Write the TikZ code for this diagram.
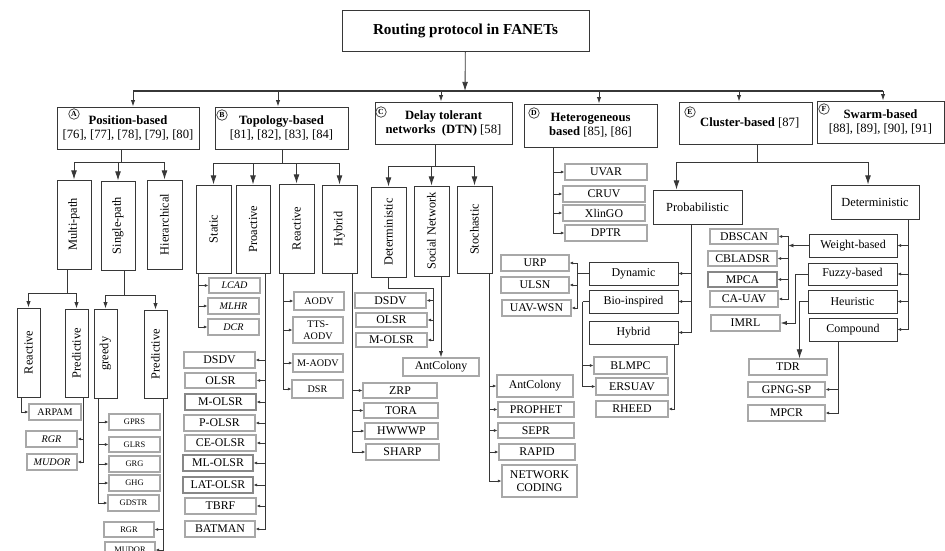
\documentclass[tikz,border=0pt]{standalone}
\usepackage{fontspec}
\setmainfont{Liberation Serif}
\usetikzlibrary{arrows.meta, positioning, calc}
\usepackage{xcolor}
\definecolor{dgray}{RGB}{55,55,55}
\definecolor{mgray}{RGB}{135,135,135}
\definecolor{lgray}{RGB}{168,168,168}

\begin{document}
\begin{tikzpicture}[x=0.025cm, y=-0.025cm,
  sz/.style 2 args={minimum width=#1*0.025cm, minimum height=#2*0.025cm},
  topbox/.style={draw=dgray, line width=0.7pt, inner sep=0,
                 font=\fontsize{10.8}{13}\selectfont\bfseries},
  cat/.style={draw=dgray, line width=0.7pt, inner sep=0, align=center,
              font=\fontsize{9}{10}\selectfont},
  vsub/.style={draw=dgray, line width=0.7pt, inner sep=0,
               font=\fontsize{8.8}{10}\selectfont},
  hsub/.style={vsub, font=\fontsize{8.5}{10}\selectfont},
  leaf/.style={draw=lgray, line width=0.8pt, inner sep=0, align=center,
               font=\fontsize{8.4}{9.2}\selectfont},
  leafd/.style={leaf, draw=mgray},
  lsmall/.style={leaf, font=\fontsize{7.2}{8.4}\selectfont},
  ltiny/.style={leaf, font=\fontsize{6}{7}\selectfont},
  tag/.style={circle, draw=dgray, line width=0.5pt, minimum size=7.5pt, inner sep=0,
              font=\fontsize{5.5}{5.5}\selectfont\bfseries},
  conn/.style={dgray, line width=0.6pt},
  arr/.style={conn, -{Latex[length=6.5pt,width=4.2pt]}},
  marr/.style={conn, -{Latex[length=4.5pt,width=3pt]}},
  stub/.style={conn, line width=0.45pt, -{Latex[length=2.6pt,width=2.2pt]}}
]
\useasboundingbox (0,0) rectangle (945,551);

\node[topbox, sz={247}{41}] (root) at (465.5,30.5) {Routing protocol in FANETs};

\node[cat, sz={142}{42}] (pos)  at (128,128)     {\textbf{Position-based}\\{}[76], [77], [78], [79], [80]};
\node[cat, sz={133}{42}] (topo) at (281.5,128)   {\textbf{Topology-based}\\{}[81], [82], [83], [84]};
\node[cat, sz={137}{42}] (dtn)  at (443.5,123)   {\textbf{Delay tolerant}\\\textbf{networks\enspace(DTN)} [58]};
\node[cat, sz={133}{43}] (het)  at (590.5,125.5) {\textbf{Heterogeneous}\\\textbf{based} [85], [86]};
\node[cat, sz={133}{42}] (clu)  at (745.5,123)   {\hspace*{6pt}\textbf{Cluster-based} [87]};
\node[cat, sz={127}{42}] (swa)  at (880.5,122)   {\textbf{Swarm-based}\\{}[88], [89], [90], [91]};

\node[tag] (ta) at (74,114)  {A};
\node[tag] (tb) at (222,115) {B};
\node[tag] (tc) at (381,112) {C};
\node[tag] (td) at (534,113) {D};
\node[tag] (te) at (690,112) {E};
\node[tag] (tf) at (824,109) {F};

\node[vsub, sz={34}{89}] (mp)  at (74,224.5)    {\rotatebox{90}{Multi-path}};
\node[vsub, sz={34}{89}] (sp)  at (118,225.5)   {\rotatebox{90}{Single-path}};
\node[vsub, sz={35}{89}] (hi)  at (164.5,224.5) {\rotatebox{90}{Hierarchical}};
\node[vsub, sz={35}{88}] (st)  at (213.5,229)   {\rotatebox{90}{Static}};
\node[vsub, sz={34}{88}] (pr)  at (253,229)     {\rotatebox{90}{Proactive}};
\node[vsub, sz={35}{89}] (re)  at (296.5,228.5) {\rotatebox{90}{Reactive}};
\node[vsub, sz={35}{88}] (hy)  at (339.5,229)   {\rotatebox{90}{Hybrid}};
\node[vsub, sz={35}{90}] (de)  at (388.5,232)   {\rotatebox{90}{Deterministic}};
\node[vsub, sz={35}{90}] (sn)  at (431.5,231)   {\rotatebox{90}{Social Network}};
\node[vsub, sz={35}{87}] (so)  at (474.5,229.5) {\rotatebox{90}{Stochastic}};
\node[vsub, sz={23}{89}] (mre) at (28.5,352.5)  {\rotatebox{90}{Reactive}};
\node[vsub, sz={23}{88}] (mpr) at (76.5,353)    {\rotatebox{90}{Predictive}};
\node[vsub, sz={23}{89}] (gr)  at (105.5,353.5) {\rotatebox{90}{greedy}};
\node[vsub, sz={23}{88}] (spr) at (155.5,354)   {\rotatebox{90}{Predictive}};

\node[lsmall, sz={52}{16}] (arpam)  at (55,412)     {ARPAM};
\node[lsmall, sz={51}{16}] (rgra)   at (51.5,439)   {\itshape RGR};
\node[lsmall, sz={50}{16}] (mudora) at (52,462)     {\itshape MUDOR};
\node[ltiny, sz={51}{16}] (gprs)   at (134.5,422)   {GPRS};
\node[ltiny, sz={51}{15}] (glrs)   at (134.5,444.5) {GLRS};
\node[ltiny, sz={51}{16}] (grg)    at (134.5,464)   {GRG};
\node[ltiny, sz={51}{16}] (ghg)    at (134.5,483)   {GHG};
\node[ltiny, sz={51}{16}] (gdstr)  at (133.5,503)   {GDSTR};
\node[ltiny, sz={50}{15}] (rgrb)   at (129,529.5)   {RGR};
\node[ltiny, sz={50}{16}] (mudorb) at (130,550)     {MUDOR};

\node[lsmall, sz={51}{15}] (lcad) at (234.5,285.5) {\itshape LCAD};
\node[lsmall, sz={51}{16}] (mlhr) at (233.5,306)   {\itshape MLHR};
\node[lsmall, sz={51}{16}] (dcr)  at (233.5,327)   {\itshape DCR};

\node[leaf,  sz={71}{16}] (dsdva)   at (219.5,360)   {DSDV};
\node[leaf,  sz={71}{15}] (olsra)   at (220.5,380.5) {OLSR};
\node[leafd, sz={71}{16}] (molsra)  at (220.5,402)   {M-OLSR};
\node[leaf,  sz={71}{16}] (polsr)   at (219.5,423)   {P-OLSR};
\node[leaf,  sz={71}{16}] (ceolsr)  at (220.5,443)   {CE-OLSR};
\node[leafd, sz={70}{16}] (mlolsr)  at (218,463)     {ML-OLSR};
\node[leafd, sz={70}{16}] (latolsr) at (218,485)     {LAT-OLSR};
\node[leaf,  sz={71}{16}] (tbrf)    at (220.5,506)   {TBRF};
\node[leaf,  sz={70}{16}] (batman)  at (220,529)     {BATMAN};

\node[lsmall, sz={50}{18}] (aodv)    at (319,301)   {AODV};
\node[lsmall, sz={50}{26}] (ttsaodv) at (318,330)   {TTS-\\AODV};
\node[lsmall, sz={50}{18}] (maodv)   at (318,363)   {M-AODV};
\node[lsmall, sz={51}{18}] (dsr)     at (317.5,389) {DSR};

\node[leaf, sz={74}{15}] (zrp)   at (400,390.5) {ZRP};
\node[leaf, sz={74}{15}] (tora)  at (401,410.5) {TORA};
\node[leaf, sz={73}{16}] (hwwwp) at (401.5,431) {HWWWP};
\node[leaf, sz={73}{16}] (sharp) at (402.5,452) {SHARP};

\node[leaf, sz={71}{15}] (dsdvb)   at (390.5,300.5) {DSDV};
\node[leaf, sz={71}{14}] (olsrb)   at (391.5,320)   {OLSR};
\node[leaf, sz={71}{14}] (molsrb)  at (391.5,340)   {M-OLSR};
\node[leaf, sz={76}{18}] (antd)    at (441,367)     {AntColony};
\node[leaf, sz={76}{22}] (ants)    at (535,386)     {AntColony};
\node[leaf, sz={76}{15}] (prophet) at (536,409.5)   {PROPHET};
\node[leaf, sz={76}{15}] (sepr)    at (536,430.5)   {SEPR};
\node[leaf, sz={76}{16}] (rapid)   at (537,452)     {RAPID};
\node[leaf, sz={75}{32}] (netcod)  at (539.5,481)   {NETWORK\\CODING};

\node[leaf, sz={82}{16}] (uvar)   at (606,172) {UVAR};
\node[leaf, sz={82}{16}] (cruv)   at (604,194) {CRUV};
\node[leaf, sz={82}{16}] (xlingo) at (604,213) {XlinGO};
\node[leaf, sz={82}{16}] (dptr)   at (606,233) {DPTR};

\node[vsub, sz={89}{34}] (prob) at (697.5,207)   {Probabilistic};
\node[vsub, sz={88}{34}] (det)  at (875,202)     {Deterministic};
\node[hsub, sz={89}{23}] (dyn)  at (633.5,273.5) {Dynamic};
\node[hsub, sz={89}{23}] (bio)  at (633.5,301.5) {Bio-inspired};
\node[hsub, sz={89}{23}] (hyb)  at (633.5,332.5) {Hybrid};
\node[leaf, sz={68}{16}] (urp)    at (535,263)     {URP};
\node[leaf, sz={68}{16}] (ulsn)   at (535,285)     {ULSN};
\node[leaf, sz={69}{16}] (uavwsn) at (536.5,308)   {UAV-WSN};
\node[leaf, sz={73}{17}] (blmpc)  at (630.5,365.5) {BLMPC};
\node[leaf, sz={72}{17}] (ersuav) at (632,386.5)   {ERSUAV};
\node[leaf, sz={72}{16}] (rheed)  at (632,409)     {RHEED};
\node[hsub, sz={88}{23}] (wei) at (853,245.5)   {Weight-based};
\node[hsub, sz={89}{22}] (fuz) at (852.5,274)   {Fuzzy-based};
\node[hsub, sz={89}{23}] (heu) at (852.5,301.5) {Heuristic};
\node[hsub, sz={88}{23}] (com) at (853,329.5)   {Compound};
\node[leaf,  sz={68}{15}] (dbscan)  at (744,236.5)   {DBSCAN};
\node[leaf,  sz={69}{15}] (cbladsr) at (742.5,258.5) {CBLADSR};
\node[leafd, sz={69}{15}] (mpca)    at (742.5,279.5) {MPCA};
\node[leaf,  sz={68}{16}] (cauav)   at (744,299)     {CA-UAV};
\node[leaf,  sz={69}{16}] (imrl)    at (745.5,323)   {IMRL};
\node[leaf,  sz={78}{16}] (tdr)     at (788,367)     {TDR};
\node[leaf,  sz={77}{15}] (gpng)    at (786.5,389.5) {GPNG-SP};
\node[leaf,  sz={77}{16}] (mpcr)    at (786.5,413)   {MPCR};

% top level
\coordinate (bus) at (465,91);
\draw[arr] (root) -- (bus);
\foreach \n/\dx in {pos/5,topo/-3.5,dtn/-2.5,het/8.5,clu/-6.5,swa/2.5}
  \coordinate (in\n) at ($(\n.north)+(\dx,0)$);
\draw[conn, line width=0.8pt] (inpos |- bus) -- (inswa |- bus);
\foreach \n in {pos,topo,dtn,het,clu,swa}
  \draw[marr] (in\n |- bus) -- (in\n);

% second level
\coordinate (pj) at (121,162);
\draw[conn] (pos.south -| pj) -- (pj);
\foreach \nd in {mp,sp,hi} \draw[arr] (pj) -| (\nd.north);
\coordinate (tj) at (282,163);
\draw[conn] (topo.south -| tj) -- (tj);
\foreach \nd in {st,pr,re,hy} \draw[arr] (tj) -| (\nd.north);
\coordinate (dj) at (435,166);
\draw[conn] (dtn.south -| dj) -- (dj);
\foreach \nd in {de,sn,so} \draw[arr] (dj) -| (\nd.north);
\coordinate (cj) at (757,162);
\coordinate (inprob) at ($(prob.north)+(-21,0)$);
\coordinate (indet) at ($(det.north)+(-7,0)$);
\draw[conn] (clu.south -| cj) -- (cj);
\foreach \nd in {inprob,indet} \draw[arr] (cj) -| (\nd);

% position-based
\coordinate (mj) at (67,293);
\draw[conn] (mp.south -| mj) -- (mj);
\foreach \nd in {mre,mpr} \draw[marr] (mj) -| (\nd.north);
\coordinate (sj) at (124,295);
\draw[conn] (sp.south -| sj) -- (sj);
\foreach \nd in {gr,spr} \draw[marr] (sj) -| (\nd.north);
\coordinate (s1) at ($(mre.south west)+(5,0)$);
\draw[stub] (s1) |- (arpam.west);
\coordinate (s2) at ($(mpr.south east)+(-5,0)$);
\foreach \nd in {rgra,mudora} \draw[stub] (s2) |- (\nd.east);
\coordinate (s3) at ($(gr.south west)+(5,0)$);
\foreach \nd in {gprs,glrs,grg,ghg,gdstr} \draw[stub] (s3) |- (\nd.west);
\coordinate (s4) at ($(spr.south east)+(-4,0)$);
\foreach \nd in {rgrb,mudorb} \draw[stub] (s4) |- (\nd.east);

% topology-based
\coordinate (s5) at ($(st.south west)+(3,0)$);
\foreach \nd in {lcad,mlhr,dcr} \draw[stub] (s5) |- (\nd.west);
\coordinate (s6) at ($(pr.south east)+(-5,0)$);
\foreach \nd in {dsdva,olsra,molsra,polsr,ceolsr,mlolsr,latolsr,tbrf,batman}
  \draw[stub] (s6) |- (\nd.east);
\coordinate (s7) at ($(re.south west)+(5,0)$);
\foreach \nd in {aodv,ttsaodv,maodv,dsr} \draw[stub] (s7) |- (\nd.west);
\coordinate (s8) at ($(hy.south east)+(-5,0)$);
\foreach \nd in {zrp,tora,hwwwp,sharp} \draw[stub] (s8) |- (\nd.west);

% dtn
\coordinate (dej) at ($(de.south)+(44.5,11)$);
\draw[conn] (de.south) |- (dej);
\foreach \nd in {dsdvb,olsrb,molsrb} \draw[stub] (dej) |- (\nd.east);
\draw[marr] (sn.south -| antd.north) -- (antd.north);
\coordinate (s9) at ($(so.south east)+(-3,0)$);
\foreach \nd in {ants,prophet,sepr,rapid,netcod} \draw[stub] (s9) |- (\nd.west);

% heterogeneous
\coordinate (s10) at ($(het.south west)+(30,0)$);
\foreach \nd in {uvar,cruv,xlingo,dptr} \draw[stub] (s10) |- (\nd.west);

% cluster-based
\coordinate (s11) at ($(prob.south west)+(39,0)$);
\foreach \nd in {dyn,bio,hyb} \draw[stub] (s11) |- (\nd.east);
\coordinate (dynj) at ($(dyn.west)+(-11,0)$);
\draw[conn] (dyn.west) -- (dynj);
\foreach \nd in {urp,ulsn,uavwsn} \draw[stub] (dynj) |- (\nd.east);
\coordinate (bioj) at ($(bio.west)+(-6,0)$);
\draw[conn] (bio.west) -- (bioj);
\foreach \nd in {blmpc,ersuav} \draw[stub] (bioj) |- (\nd.west);
\coordinate (s12) at ($(hyb.south east)+(-4,0)$);
\draw[stub] (s12) |- (rheed.east);
\coordinate (s13) at ($(det.south east)+(-11,0)$);
\foreach \nd in {wei,fuz,heu,com} \draw[stub] (s13) |- (\nd.east);
\coordinate (weij) at ($(wei.west)+(-20,0)$);
\draw[stub, -{Latex[length=3.5pt,width=2.8pt]}] (wei.west) -- (weij);
\foreach \nd in {dbscan,cbladsr,mpca,cauav} \draw[stub] (weij) |- (\nd.east);
\coordinate (fuzj) at ($(fuz.west)+(-12,0)$);
\draw[marr] (fuz.west) -- (fuzj) |- (imrl.east);
\coordinate (heuj) at ($(heu.west)+(-8,0)$);
\draw[arr] (heu.west) -- (heuj) -- (heuj |- tdr.north);
\coordinate (s14) at ($(com.south west)+(30,0)$);
\foreach \nd in {gpng,mpcr} \draw[stub] (s14) |- (\nd.east);
\end{tikzpicture}
\end{document}
